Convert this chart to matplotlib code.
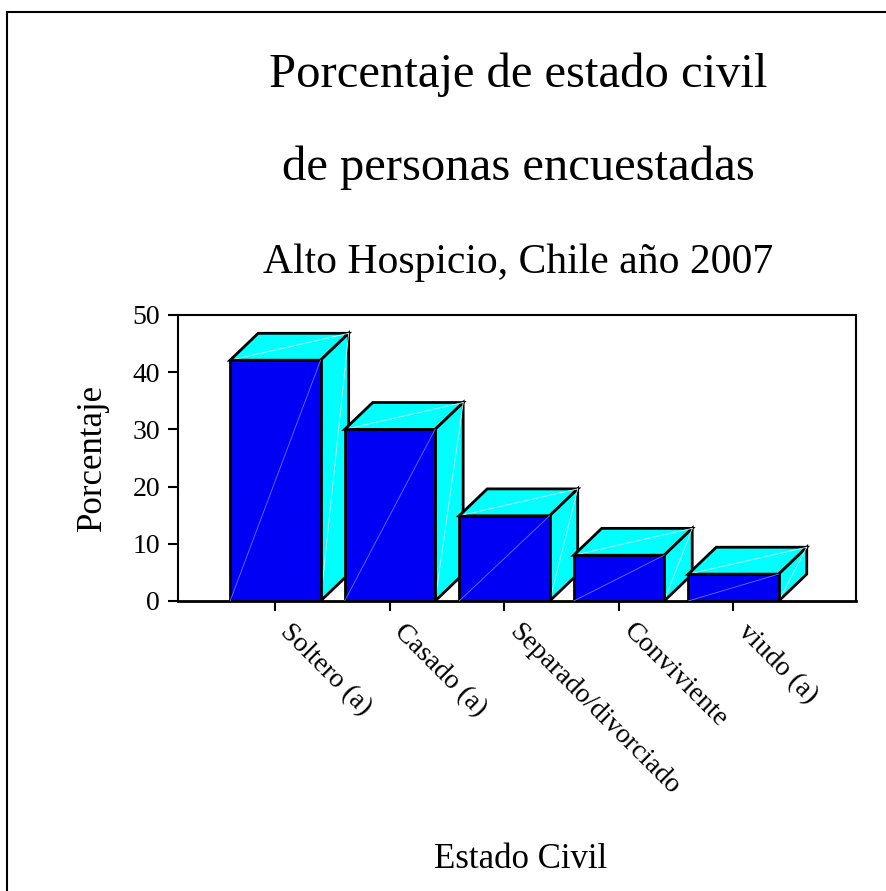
import numpy as np
import matplotlib
matplotlib.use("Agg")
import matplotlib.pyplot as plt
from matplotlib.patches import Polygon, Rectangle
from matplotlib.transforms import ScaledTranslation

# Data
categories = ["Soltero (a)", "Casado (a)", "Separado/divorciado", "Conviviente", "viudo (a)"]
values = [42.1, 30.0, 14.9, 8.0, 4.7]
yticks = [0, 10, 20, 30, 40, 50]

# 3D look
bar_w = 0.79
dx = 0.245   # depth offset in x (category units)
dy = 4.7     # depth offset in y (data units)
front_col = "#0000F5"
side_col = "#00FFFF"

plt.rcParams["font.family"] = ["Liberation Serif", "DejaVu Serif"]

fig = plt.figure(figsize=(8.87, 8.91), dpi=100)
ax = fig.add_axes([178 / 887, 1 - 601 / 891, (856 - 178) / 887, (601 - 315) / 891])

x = np.arange(len(categories))
for i, (xi, v) in enumerate(zip(x, values)):
    z = 2 + i * 3
    x0, x1 = xi - bar_w / 2, xi + bar_w / 2
    ax.bar(xi, v, width=bar_w, color=front_col, edgecolor="black", linewidth=2, zorder=z + 2)
    top = Polygon([[x0, v], [x1, v], [x1 + dx, v + dy], [x0 + dx, v + dy]], closed=True,
                  facecolor=side_col, edgecolor="black", linewidth=2, zorder=z)
    side = Polygon([[x1, 0], [x1 + dx, dy], [x1 + dx, v + dy], [x1, v]], closed=True,
                   facecolor=side_col, edgecolor="black", linewidth=2, zorder=z)
    ax.add_patch(top)
    ax.add_patch(side)
    # faint diagonal seams
    ax.plot([x0, x1], [0, v], color="#7070ff", lw=0.6, zorder=z + 2.5)
    ax.plot([x0, x1 + dx], [v, v + dy], color="#c0ffff", lw=0.6, zorder=z + 0.5)
    ax.plot([x1, x1 + dx], [0, v + dy], color="#c0ffff", lw=0.6, zorder=z + 0.5)

ax.set_xlim(-0.85, 5.07)
ax.set_ylim(0, 50)
ax.set_yticks(yticks)
ax.set_xticks(x)
ax.set_xticklabels(categories, rotation=-45, ha="left", va="top", rotation_mode="anchor", fontsize=20)
ax.tick_params(axis="y", labelsize=20, direction="out", length=7, width=1.5, pad=6)
ax.tick_params(axis="x", direction="out", length=7, width=1.5, pad=6)
for lbl in ax.get_xticklabels():
    lbl.set_transform(lbl.get_transform() + ScaledTranslation(0.17, 0.0, fig.dpi_scale_trans))
for s in ax.spines.values():
    s.set_linewidth(1.5)
ax.spines["bottom"].set_linewidth(2)

fig.text(0.584, 1 - 87 / 891, "Porcentaje de estado civil", ha="center", va="baseline", fontsize=35)
fig.text(0.584, 1 - 180 / 891, "de personas encuestadas", ha="center", va="baseline", fontsize=35)
fig.text(0.584, 1 - 273 / 891, "Alto Hospicio, Chile año 2007", ha="center", va="baseline", fontsize=30)
fig.text(0.104, 0.487, "Porcentaje", ha="center", va="center", rotation=90, fontsize=25)
fig.text(0.587, 1 - 868 / 891, "Estado Civil", ha="center", va="baseline", fontsize=25)

# outer frame (cropped at right and bottom)
fig.patches.append(Rectangle((7 / 887, -0.05), 1.1, 1 - 12 / 891 + 0.05, transform=fig.transFigure,
                             fill=False, edgecolor="black", linewidth=1.5))

fig.savefig("out.png", dpi=100)
